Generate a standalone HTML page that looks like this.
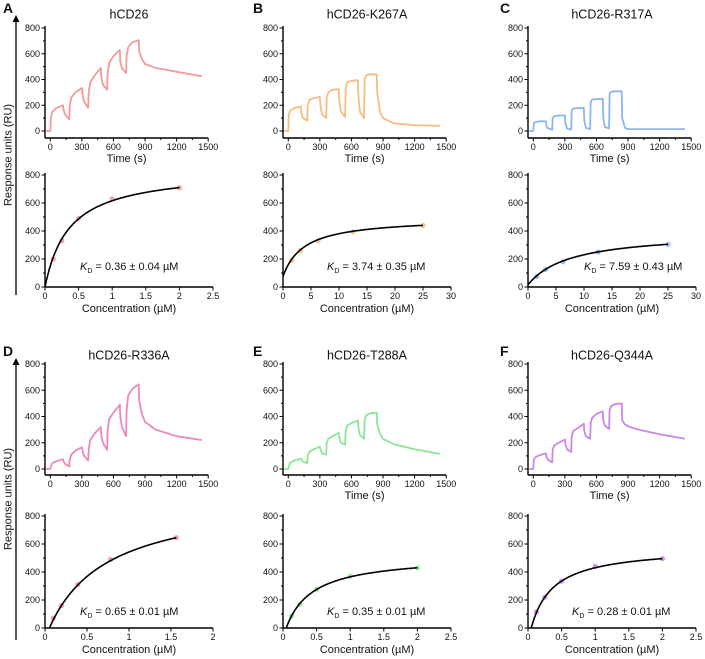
<!DOCTYPE html>
<html><head><meta charset="utf-8">
<style>
html,body{margin:0;padding:0;background:#fff;}
svg{display:block;font-family:"Liberation Sans",Arial,sans-serif;}
</style></head>
<body>
<svg id="fig" width="705" height="659" viewBox="0 0 705 659" xmlns="http://www.w3.org/2000/svg"></svg>
<script>
// ---- data ----
const sensorTimes = [-40,0,5,20,60,120,125,140,180,185,200,240,300,305,320,360,365,380,420,480,485,500,540,545,560,600,660,665,680,720,725,740,780,840,845,870,900,1000,1200,1440];
const sensorA = [0,0,100,150,180,200,170,130,90,200,260,300,335,290,230,180,300,380,430,490,420,360,320,450,530,580,630,540,490,450,580,650,690,705,620,560,520,490,460,425];
const sensorB = [0,0,130,160,180,190,140,100,80,200,240,255,265,200,130,100,260,300,320,325,230,150,110,330,380,390,395,280,150,100,400,435,440,440,300,150,100,60,45,40];
const sensorC = [0,0,60,70,75,75,40,20,10,100,115,120,120,60,20,10,160,175,178,180,80,25,15,230,245,248,250,100,30,20,290,305,308,308,100,25,15,15,15,15];
const sensorD = [0,0,20,45,60,75,60,40,20,70,110,140,165,140,100,65,150,220,270,320,260,200,145,300,380,430,490,400,320,250,450,560,610,645,520,420,360,300,250,220];
const sensorE = [0,0,20,50,65,80,70,55,45,100,130,150,170,150,120,110,200,230,250,275,240,200,185,290,330,350,370,320,260,230,370,410,425,430,340,270,230,190,150,115];
const sensorF = [0,0,70,90,105,120,95,70,50,150,180,200,225,190,150,130,250,290,310,345,290,250,230,350,390,420,440,370,330,305,450,480,495,500,370,340,325,300,265,230];

const concA = [0.125,0.25,0.5,1,2];
const respA = [200,330,490,630,710];
const concB = [1.5625,3.125,6.25,12.5,25];
const respB = [190,260,330,395,440];
const concC = [1.5625,3.125,6.25,12.5,25];
const respC = [75,125,180,250,305];
const concD = [0.098,0.195,0.39,0.78,1.5625];
const respD = [70,160,310,490,645];
const concE = [0.125,0.25,0.5,1,2];
const respE = [85,170,275,370,430];
const concF = [0.125,0.25,0.5,1,2];
const respF = [115,220,335,440,495];

const fitKd = [0.36,3.74,7.59,0.65,0.35,0.28];
const fitRmax = [838,420,377,1021,589,679];
const fitOffset = [0,75,16,-76,-71,-100];

const panelLetters = ["A","B","C","D","E","F"];
const panelTitles = ["hCD26","hCD26-K267A","hCD26-R317A","hCD26-R336A","hCD26-T288A","hCD26-Q344A"];
const kdLabels = [" = 0.36 \u00b1 0.04 \u00b5M"," = 3.74 \u00b1 0.35 \u00b5M"," = 7.59 \u00b1 0.43 \u00b5M"," = 0.65 \u00b1 0.01 \u00b5M"," = 0.35 \u00b1 0.01 \u00b5M"," = 0.28 \u00b1 0.01 \u00b5M"];
const timeTicks = [0,300,600,900,1200,1500];
const yTicks = [0,200,400,600,800];
const concTicksA = ["0","0.5","1","1.5","2","2.5"];
const concTicksB = ["0","5","10","15","20","25","30"];
const concTicksD = ["0","0.5","1","1.5","2"];

const sensors=[sensorA,sensorB,sensorC,sensorD,sensorE,sensorF];
const concs=[concA,concB,concC,concD,concE,concF];
const resps=[respA,respB,respC,respD,respE,respF];
const concTickSets=[concTicksA,concTicksB,concTicksB,concTicksD,concTicksA,concTicksA];
const colors=["#f39a9a","#f5bd82","#8db5ee","#ec88bd","#8de596","#c987ec"];
const showTime=[true,true,true,false,true,true];

// ---- layout ----
const cols=[45,283,528];
const rows=[{t8:28,t0:131,ta:138,b8:175,b0:287,lab:7,title:14},{t8:364,t0:469,ta:475,b8:516,b0:628,lab:350,title:355}];
const letterX=[3,253,500];
const NS="http://www.w3.org/2000/svg";
const svg=document.getElementById('fig');
function el(tag,attrs,parent){const e=document.createElementNS(NS,tag);for(const k in attrs)e.setAttribute(k,attrs[k]);(parent||svg).appendChild(e);return e;}
function txt(s,x,y,size,anchor,parent,extra){const t=el('text',Object.assign({x:x,y:y,'font-size':size,'text-anchor':anchor||'middle',fill:'#111'},extra||{}),parent);t.textContent=s;return t;}

// big y arrows
for(let r=0;r<2;r++){
  const g=el('g',{});
  
  
  const y1=r?358:15,y2=r?640:295;
  el('line',{x1:16,y1:y1+5,x2:16,y2:y2,stroke:'#000','stroke-width':1.3},g);
  el('path',{d:`M12.5 ${y1+7} L16 ${y1} L19.5 ${y1+7} Z`,fill:'#000'},g);
  const t=txt('Response units (RU)',0,0,11,'middle',g,{transform:`translate(11.5 ${(y1+y2)/2}) rotate(-90)`});
  
  
}

for(let p=0;p<6;p++){
  const r=Math.floor(p/3),c=p%3,R=rows[r],ax=cols[c];
  const g=el('g',{});
  
  
  const L=txt(panelLetters[p],letterX[c],R.lab+6,14,'start',g,{'font-weight':'bold'});
  
  
  const T=txt(panelTitles[p],ax+84,R.title+4.5,12.5,'middle',g);
  
  

  // --- sensorgram ---
  const sg=el('g',{},g);
  
  
  const xT=t=>ax+(t+50)*0.1053;
  const yT=v=>R.t0-(v/800)*(R.t0-R.t8);
  el('line',{x1:ax,y1:R.t8-2,x2:ax,y2:R.ta,stroke:'#000','stroke-width':1.4},sg);
  el('line',{x1:ax,y1:R.ta,x2:xT(1500),y2:R.ta,stroke:'#000','stroke-width':1.4},sg);
  for(let v=0;v<=800;v+=100){const y=yT(v);el('line',{x1:ax-(v%200?2:3.5),y1:y,x2:ax,y2:y,stroke:'#000','stroke-width':1},sg);}
  yTicks.forEach(v=>txt(String(v),ax-5,yT(v)+3,9,'end',sg));
  for(let t=0;t<=1500;t+=150){const x=xT(t);el('line',{x1:x,y1:R.ta,x2:x,y2:R.ta+(t%300?2:3.5),stroke:'#000','stroke-width':1},sg);}
  timeTicks.forEach(t=>txt(String(t),xT(t),R.ta+12,9,'middle',sg));
  if(showTime[p]){const tt=txt('Time (s)',xT(725),R.ta+24,11,'middle',sg);}
  const s=sensors[p];
  let d='';sensorTimes.forEach((t,i)=>{d+=(i?'L':'M')+xT(t).toFixed(1)+' '+yT(s[i]).toFixed(1);});
  const line=el('path',{d:d,fill:'none',stroke:colors[p],'stroke-width':1.8,'stroke-linejoin':'round'},sg);
  
  

  // --- binding curve ---
  const bg=el('g',{},g);
  
  
  const ticks=concTickSets[p],xmax=parseFloat(ticks[ticks.length-1]);
  const W=168;
  const xC=v=>ax+v/xmax*W;
  const yC=v=>R.b0-(v/800)*(R.b0-R.b8);
  el('line',{x1:ax,y1:R.b8-2,x2:ax,y2:R.b0,stroke:'#000','stroke-width':1.4},bg);
  el('line',{x1:ax,y1:R.b0,x2:ax+W,y2:R.b0,stroke:'#000','stroke-width':1.4},bg);
  for(let v=0;v<=800;v+=100){const y=yC(v);el('line',{x1:ax-(v%200?2:3.5),y1:y,x2:ax,y2:y,stroke:'#000','stroke-width':1},bg);}
  yTicks.forEach(v=>txt(String(v),ax-5,yC(v)+3,9,'end',bg));
  ticks.forEach(tk=>{const x=xC(parseFloat(tk));el('line',{x1:x,y1:R.b0,x2:x,y2:R.b0+3.5,stroke:'#000','stroke-width':1},bg);txt(tk,x,R.b0+12,9,'middle',bg);});
  const ct=txt('Concentration (\u00b5M)',ax+W/2,R.b0+25,11,'middle',bg);
  
  
  concs[p].forEach((cv,i)=>{const dot=el('circle',{cx:xC(cv),cy:yC(resps[p][i]),r:2.6,fill:colors[p],opacity:0.85},bg);
    
    });
  let fd='',started=false;const xEnd=concs[p][concs[p].length-1];
  for(let k=0;k<=200;k++){const cv=xEnd*k/200;const v=fitOffset[p]+fitRmax[p]*cv/(fitKd[p]+cv);if(v<0)continue;fd+=(started?'L':'M')+xC(cv).toFixed(1)+' '+yC(v).toFixed(1);started=true;}
  const fit=el('path',{d:fd,fill:'none',stroke:'#000','stroke-width':1.6},bg);
  
  
  const kx=[80,327,584][c]-(r&&c==2?12:0);
  const kt=el('text',{x:kx,y:(r?612:267)+3,'font-size':11,fill:'#111'},bg);
  
  
  const k1=el('tspan',{'font-style':'italic'},kt);k1.textContent='K';
  const k2=el('tspan',{'font-size':7,dy:3},kt);k2.textContent='D';
  const k3=el('tspan',{dy:-3},kt);k3.textContent=kdLabels[p];
}
</script>
</body></html>
